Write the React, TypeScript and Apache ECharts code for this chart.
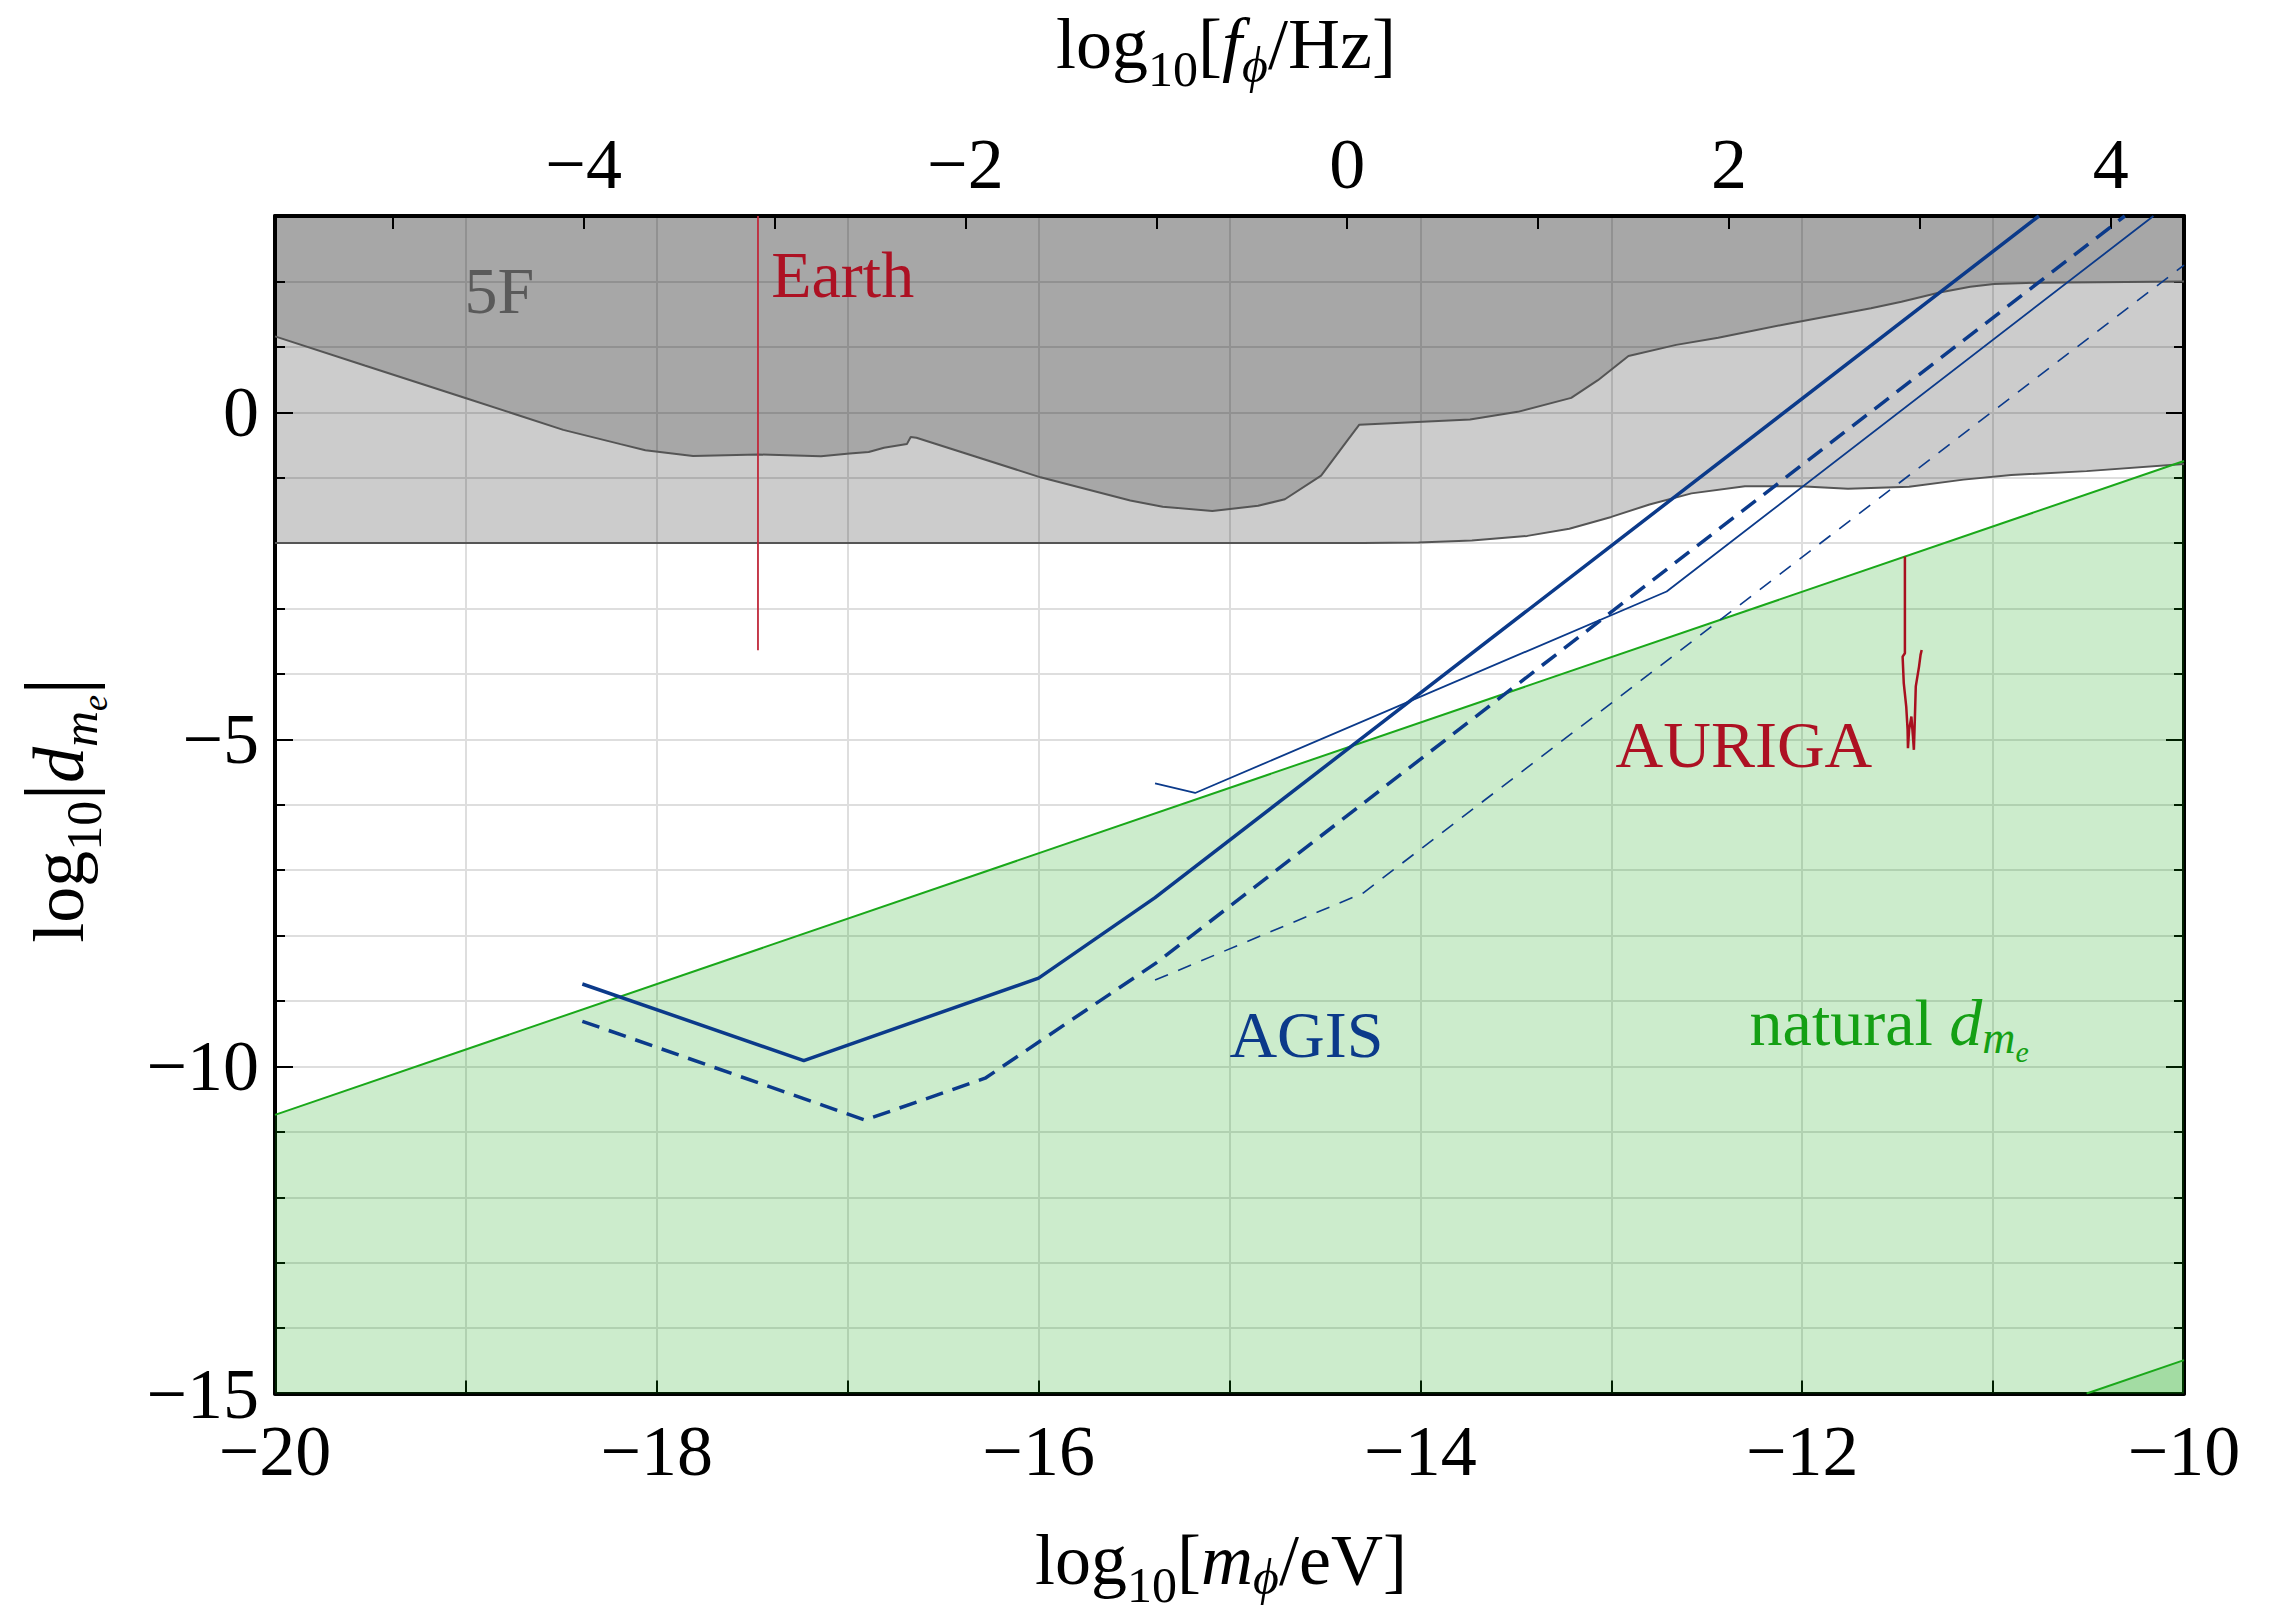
import React, { useEffect, useRef } from 'react';
import * as echarts from 'echarts';

const SERIF = '"Liberation Serif", "Times New Roman", serif';
// log10(f/Hz) = log10(m/eV) - log10(h / eV s)
const HZ_OFFSET = 14.3835;

// ---- tick labels ----
const xTickLabels = [-20, -18, -16, -14, -12, -10];
const yTickLabels = [-15, -10, -5, 0];
const hzTicks = [-5, -4, -3, -2, -1, 0, 1, 2, 3, 4];
const hzLabels = [-4, -2, 0, 2, 4];

// ---- excluded regions (fifth-force) ----
const fifthForceLower: number[][] = [
  [-20, -2], [-14.3, -2], [-14.01, -1.99], [-13.73, -1.96], [-13.44, -1.89], [-13.22, -1.78],
  [-13.0, -1.6], [-12.8, -1.41], [-12.58, -1.24], [-12.3, -1.13], [-12.01, -1.13], [-11.76, -1.17],
  [-11.44, -1.14], [-11.155, -1.03], [-10.905, -0.96], [-10.51, -0.9], [-10.0, -0.79],
];
const fifthForceUpper: number[][] = [
  [-20, 1.16], [-19.53, 0.714], [-18.995, 0.211], [-18.49, -0.269], [-18.19, -0.487], [-18.06, -0.58],
  [-17.81, -0.667], [-17.47, -0.646], [-17.14, -0.673], [-16.99, -0.629], [-16.89, -0.607],
  [-16.81, -0.542], [-16.69, -0.487], [-16.67, -0.378], [-16.64, -0.389], [-15.99, -0.995],
  [-15.52, -1.35], [-15.35, -1.443], [-15.09, -1.51], [-14.85, -1.43], [-14.71, -1.33],
  [-14.52, -0.97], [-14.39, -0.46], [-14.32, -0.19], [-13.74, -0.11], [-13.49, 0.006],
  [-13.21, 0.22], [-13.07, 0.49], [-12.91, 0.86], [-12.66, 1.03], [-12.44, 1.14], [-12.08, 1.35],
  [-11.64, 1.59], [-11.48, 1.69], [-11.28, 1.83], [-11.12, 1.92], [-10.995, 1.96], [-10.76, 1.98],
  [-10.0, 2.0],
];

// ---- natural d_me ----
const naturalLine: number[][] = [[-20, -10.74], [-10, -0.745]];
const naturalLine2: number[][] = [[-10.51, -15], [-10, -14.49]];

// ---- Earth / AURIGA ----
const earthLine: number[][] = [[-17.47, 3], [-17.47, -3.64]];
const aurigaLine: number[][] = [
  [-11.462, -2.206], [-11.462, -3.683], [-11.474, -3.735], [-11.468, -4.14], [-11.455, -4.5],
  [-11.448, -4.85], [-11.446, -5.135], [-11.44, -4.855], [-11.428, -4.652], [-11.42, -4.95],
  [-11.415, -5.16], [-11.41, -4.7], [-11.405, -4.19], [-11.388, -3.888], [-11.38, -3.709],
  [-11.374, -3.633],
];

// ---- AGIS projections ----
const agisThickSolid: number[][] = [[-18.39, -8.74], [-17.23, -9.91], [-16.0, -8.65], [-15.39, -7.42], [-10.76, 3.0]];
const agisThickDashed: number[][] = [[-18.39, -9.31], [-16.91, -10.82], [-16.28, -10.18], [-15.38, -8.41], [-10.31, 3.0]];
const agisThinSolid: number[][] = [[-15.39, -5.675], [-15.18, -5.82], [-12.71, -2.74], [-10.16, 3.0]];
const agisThinDashed: number[][] = [[-15.39, -8.68], [-14.3, -7.35], [-10.0, 2.25]];

// ---- annotations (left edge, baseline) ----
const annotationNames = ['5F', 'Earth', 'AURIGA', 'AGIS', 'natural'];
const annotationX = [-19.005, -17.398, -12.975, -14.998, -12.273];
const annotationY = [1.515, 1.769, -5.417, -9.85, -9.671];

const RED = '#ad1123';
const NAVY = '#0b3a8a';
const GREEN_TXT = '#14a014';
const GREEN_LINE = '#1aa81a';

const minus = (v: number) => (v < 0 ? '\u2212' + Math.abs(v) : String(v));

// rich-text token: all tokens top-aligned in a line box, baseline moved by top padding
const BOX = 100;
const tok = (fontSize: number, shift: number, italic: boolean, color: string, mainF: number, p0: number) => ({
  fontSize,
  fontStyle: italic ? 'italic' : 'normal',
  fontFamily: SERIF,
  color,
  lineHeight: BOX,
  verticalAlign: 'top',
  padding: [Math.max(0, p0 + shift + 0.8375 * (mainF - fontSize)), 0, 0, 0],
});

const TITLE_P0 = 14; // main baseline = block middle + 24.3
const titleRich = (color: string, phiShift = 14) => ({
  r: tok(72, 0, false, color, 72, TITLE_P0),
  i: tok(72, 0, true, color, 72, TITLE_P0),
  s: tok(50, 18, false, color, 72, TITLE_P0),
  si: tok(50, phiShift, true, color, 72, TITLE_P0),
  ss: tok(36, 24, true, color, 72, TITLE_P0),
  bar: tok(88, 3, false, color, 72, TITLE_P0),
});

function App() {
  const ref = useRef<HTMLDivElement>(null);

  useEffect(() => {
    if (!ref.current) return;
    const chart = echarts.init(ref.current, null, { renderer: 'svg' });

    const axisFont = { fontSize: 72, fontFamily: SERIF, color: '#000' };
    const frame = { show: true, onZero: false, lineStyle: { color: '#000', width: 4 } };
    const gridLine = { show: true, lineStyle: { color: '#dedede', width: 2 } };

    const lineSeries = (data: number[][], color: string, width: number, type: any = 'solid', z = 5) => ({
      type: 'line',
      data,
      symbol: 'none',
      silent: true,
      z,
      lineStyle: { color, width, type },
    });

    const annColors = ['#5a5a5a', RED, RED, NAVY, GREEN_TXT];
    const LABEL_P0 = 16.7; // main baseline = label anchor
    const labelRich = {
      n: tok(66, 0, false, GREEN_TXT, 66, LABEL_P0),
      d: tok(66, 0, true, GREEN_TXT, 66, LABEL_P0),
      m: tok(46, 9, true, GREEN_TXT, 66, LABEL_P0),
      e: tok(30, 17, true, GREEN_TXT, 66, LABEL_P0),
    };

    const option: any = {
      animation: false,
      backgroundColor: '#ffffff',
      grid: { left: 275, right: 85, top: 216, bottom: 217.5, containLabel: false },
      xAxis: [
        {
          type: 'value', position: 'bottom', min: -20, max: -10, interval: 1,
          axisLine: frame,
          axisTick: { show: true, inside: true, length: 13, lineStyle: { color: '#000', width: 2 } },
          axisLabel: {
            ...axisFont, margin: 21,
            formatter: (v: number) => (xTickLabels.includes(v) ? minus(v) : ''),
          },
          splitLine: gridLine,
        },
        {
          type: 'value', position: 'top', min: -20, max: -10,
          axisLine: frame,
          axisTick: {
            show: true, inside: true, length: 13, lineStyle: { color: '#000', width: 2 },
            customValues: hzTicks.map((f) => f - HZ_OFFSET),
          },
          axisLabel: {
            ...axisFont, margin: 16,
            customValues: hzLabels.map((f) => f - HZ_OFFSET),
            formatter: (v: number) => minus(Math.round(v + HZ_OFFSET)),
          },
          splitLine: { show: false },
        },
      ],
      yAxis: [
        {
          type: 'value', position: 'left', min: -15, max: 3, interval: 1,
          axisLine: frame,
          axisTick: { show: true, inside: true, length: 10, lineStyle: { color: '#000', width: 2 } },
          axisLabel: {
            ...axisFont, margin: 16,
            formatter: (v: number) => (yTickLabels.includes(v) ? minus(v) : ''),
          },
          splitLine: gridLine,
        },
        {
          type: 'value', position: 'right', min: -15, max: 3, interval: 1,
          axisLine: frame,
          axisTick: { show: true, inside: true, length: 10, lineStyle: { color: '#000', width: 2 } },
          axisLabel: { show: false },
          splitLine: { show: false },
        },
        {
          type: 'value', position: 'left', min: -15, max: 3,
          axisLine: { show: false },
          axisTick: { show: true, inside: true, length: 18, lineStyle: { color: '#000', width: 2 }, customValues: yTickLabels },
          axisLabel: { show: false },
          splitLine: { show: false },
        },
        {
          type: 'value', position: 'right', min: -15, max: 3,
          axisLine: { show: false },
          axisTick: { show: true, inside: true, length: 18, lineStyle: { color: '#000', width: 2 }, customValues: yTickLabels },
          axisLabel: { show: false },
          splitLine: { show: false },
        },
      ],
      series: [
        {
          type: 'line', data: fifthForceLower, symbol: 'none', silent: true, z: 2,
          lineStyle: { color: '#555555', width: 2 },
          areaStyle: { origin: 'end', color: 'rgba(0,0,0,0.2)', opacity: 1 },
        },
        {
          type: 'line', data: fifthForceUpper, symbol: 'none', silent: true, z: 2,
          lineStyle: { color: '#555555', width: 2 },
          areaStyle: { origin: 'end', color: 'rgba(0,0,0,0.18)', opacity: 1 },
        },
        {
          type: 'line', data: naturalLine, symbol: 'none', silent: true, z: 2,
          lineStyle: { color: GREEN_LINE, width: 2 },
          areaStyle: { origin: 'start', color: 'rgba(0,160,0,0.2)', opacity: 1 },
        },
        {
          type: 'line', data: naturalLine2, symbol: 'none', silent: true, z: 2,
          lineStyle: { color: GREEN_LINE, width: 2 },
          areaStyle: { origin: 'start', color: 'rgba(0,160,0,0.2)', opacity: 1 },
        },
        lineSeries(earthLine, '#c0283a', 1.8),
        lineSeries(aurigaLine, '#a8101f', 2.5),
        lineSeries(agisThinDashed, NAVY, 1.6, [14, 11]),
        lineSeries(agisThinSolid, NAVY, 1.8),
        lineSeries(agisThickDashed, NAVY, 3.5, [18, 10]),
        lineSeries(agisThickSolid, NAVY, 3.5),
        {
          type: 'scatter', silent: true, z: 10, symbolSize: 1,
          itemStyle: { color: 'rgba(0,0,0,0)', opacity: 1 },
          emphasis: { disabled: true },
          data: annotationNames.map((name, i) => ({
            value: [annotationX[i], annotationY[i]],
            label: {
              show: true,
              position: [0, -22],
              align: 'left',
              verticalAlign: 'middle',
              fontSize: 66,
              lineHeight: BOX,
              fontFamily: SERIF,
              color: annColors[i],
              opacity: 1,
              textBorderWidth: 0,
              formatter: name === 'natural' ? '{n|natural }{d|d}{m|m}{e|e}' : name,
              rich: name === 'natural' ? labelRich : undefined,
            },
          })),
        },
      ],
      graphic: [
        {
          type: 'text', x: 1226, y: 44, silent: true,
          style: {
            text: '{r|log}{s|10}{r|[}{i|f}{si|\u03D5}{r|/Hz]}',
            rich: titleRich('#000'), align: 'center', verticalAlign: 'middle',
          },
        },
        {
          type: 'text', x: 1221, y: 1560, silent: true,
          style: {
            text: '{r|log}{s|10}{r|[}{i|m}{si|\u03D5}{r|/eV]}',
            rich: titleRich('#000', 10), align: 'center', verticalAlign: 'middle',
          },
        },
        {
          type: 'text', x: 59, y: 810, rotation: Math.PI / 2, silent: true,
          style: {
            text: '{r|log}{s|10}{bar||}{i|d}{si|m}{ss|e}{bar||}',
            rich: titleRich('#000'), align: 'center', verticalAlign: 'middle',
          },
        },
      ],
    };

    chart.setOption(option);
    return () => chart.dispose();
  }, []);

  return (
    <div
      ref={ref}
      style={{ position: 'absolute', left: 0, top: 0, width: 2269, height: 1611, background: '#fff' }}
    />
  );
}

export default App;
